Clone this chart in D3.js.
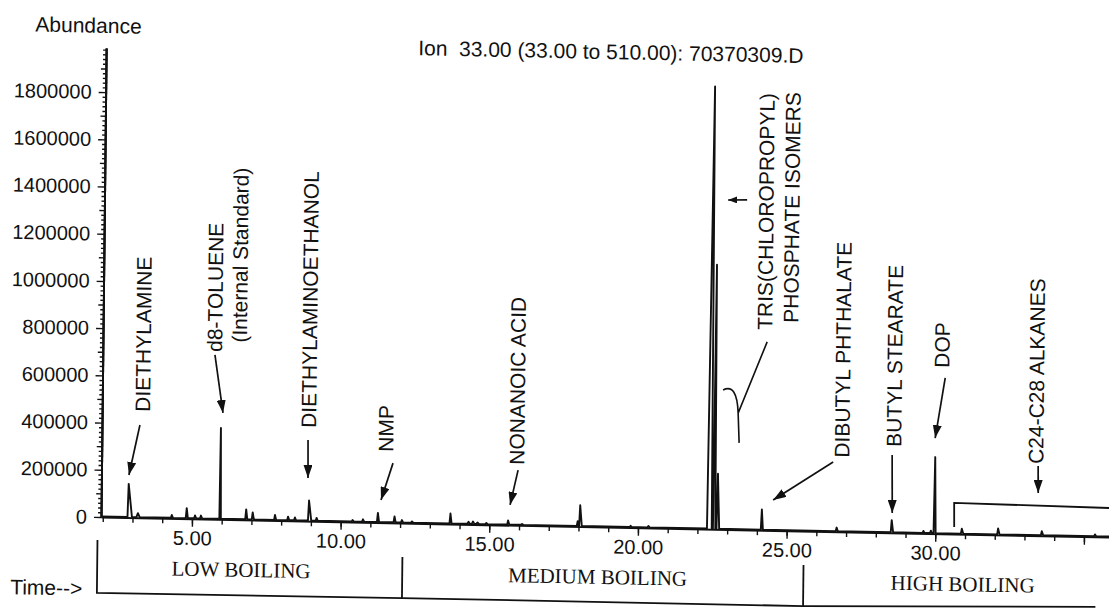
<!DOCTYPE html>
<html>
<head>
<meta charset="utf-8">
<script src="https://cdn.jsdelivr.net/npm/d3@7"></script>
<style>
body { margin: 0; background: #fff; }
svg { display: block; }
</style>
</head>
<body>
<div id="chart"></div>
<script>
// peaks: retention time (min) and abundance above baseline
const peakTimes   = [2.86, 3.18, 4.32, 4.82, 5.10, 5.30, 5.94, 6.82, 7.04, 7.79, 8.23, 8.46, 8.93, 9.19, 10.40, 10.75, 11.25, 11.81, 12.06, 12.40, 13.69, 14.30, 14.45, 14.60, 14.90, 15.63, 16.10, 17.97, 18.05, 19.75, 20.35, 22.43, 22.56, 22.67, 24.16, 26.68, 28.53, 29.60, 29.85, 29.97, 30.89, 32.11, 33.58, 35.37]
const peakHeights = [140000, 17000, 12000, 42000, 12000, 12000, 385000, 42000, 30000, 21000, 15000, 12000, 85000, 12000, 6000, 10000, 38000, 25000, 10000, 5000, 42000, 8000, 10000, 6000, 5000, 17000, 4000, 20000, 88000, 5000, 6000, 1873000, 1118000, 233000, 85000, 15000, 51000, 8000, 10000, 322000, 21000, 25000, 17000, 8000]
// rise / fall widths of each peak (min)
const peakRise = [0.03, 0.05, 0.03, 0.03, 0.03, 0.03, 0.02, 0.03, 0.03, 0.03, 0.03, 0.03, 0.03, 0.03, 0.03, 0.03, 0.03, 0.03, 0.03, 0.03, 0.03, 0.04, 0.04, 0.04, 0.03, 0.03, 0.03, 0.03, 0.03, 0.03, 0.03, 0.11, 0.04, 0.03, 0.03, 0.03, 0.03, 0.03, 0.03, 0.03, 0.03, 0.03, 0.03, 0.03]
const peakFall = [0.12, 0.06, 0.04, 0.04, 0.04, 0.04, 0.03, 0.04, 0.04, 0.04, 0.04, 0.04, 0.08, 0.04, 0.04, 0.04, 0.04, 0.04, 0.04, 0.04, 0.04, 0.05, 0.05, 0.05, 0.04, 0.04, 0.04, 0.03, 0.06, 0.04, 0.04, 0.05, 0.04, 0.06, 0.04, 0.04, 0.05, 0.04, 0.03, 0.04, 0.05, 0.05, 0.05, 0.04]
const baselineLevel = 2500

const yTickLabels = [0, 200000, 400000, 600000, 800000, 1000000, 1200000, 1400000, 1600000, 1800000]
const xTickLabels = [5, 10, 15, 20, 25, 30]

// compound labels (rotated), anchored at the start of the text
const labelTexts  = ['DIETHYLAMINE', 'd8-TOLUENE', '(Internal Standard)', 'DIETHYLAMINOETHANOL', 'NMP', 'NONANOIC ACID', 'TRIS(CHLOROPROPYL)', 'PHOSPHATE ISOMERS', 'DIBUTYL PHTHALATE', 'BUTYL STEARATE', 'DOP', 'C24-C28 ALKANES']
const labelTimes  = [3.55, 5.95, 6.78, 9.14, 11.74, 16.15, 24.44, 25.31, 27.08, 28.82, 30.41, 33.60]
const labelLevels = [449000, 709000, 750000, 395000, 300000, 256000, 849000, 881000, 314000, 364000, 703000, 304000]

// arrows [time, abundance] from -> to
const arrowFrom = [[3.215, 393000], [5.712, 696000], [8.873, 344000], [11.739, 253000], [15.947, 234000], [26.539, 295000], [28.52, 330000], [30.276, 661000], [33.434, 295000]]
const arrowTo   = [[2.864, 180000], [6.004, 451000], [8.886, 183000], [11.349, 96000], [15.691, 86000], [24.534, 129000], [28.544, 84000], [29.960, 405000], [33.445, 181000]]

// boiling ranges
const sectionBounds = [1.83, 12.09, 25.58, 35.41]
const sectionNames = ['LOW BOILING', 'MEDIUM BOILING', 'HIGH BOILING']
const sectionCenters = [6.67, 18.66, 30.94]

const width = 1109
const height = 609
const ink = '#111'
const sans = '"Liberation Sans", Arial, sans-serif'

const x = d3.scaleLinear().domain([1.94, 36]).range([101, 1113.7])
const y = d3.scaleLinear().domain([0, 1987000]).range([517, 48])

const svg = d3.select('#chart').append('svg')
	.attr('width', width)
	.attr('height', height)
	.style('background', '#fff')

const defs = svg.append('defs')
function marker (id, len, half) {
	defs.append('marker')
		.attr('id', id)
		.attr('viewBox', (-len) + ' ' + (-half) + ' ' + (len + 1) + ' ' + (half * 2))
		.attr('refX', 0).attr('refY', 0)
		.attr('markerWidth', len + 1).attr('markerHeight', half * 2)
		.attr('markerUnits', 'userSpaceOnUse')
		.attr('orient', 'auto')
		.append('path')
		.attr('d', 'M0,0 L' + (-len) + ',' + (-half) + ' L' + (-len) + ',' + half + ' Z')
		.attr('fill', ink)
}
marker('head', 13, 4.5)
marker('headS', 9, 3.5)

// the scanned page is slightly skewed, so everything sits in one skewed group
const g = svg.append('g')
	.attr('transform', 'translate(101,517) matrix(1,0.02,-0.011,1,0,0) translate(-101,-517)')

// y axis: minor, mid and labelled ticks
const minorY = d3.range(0, 1987000, 20000).filter(v => v % 100000 !== 0)
const midY = d3.range(100000, 1987000, 200000)
g.append('g').attr('transform', 'translate(101,0)')
	.call(d3.axisLeft(y).tickValues(minorY).tickSize(3).tickSizeOuter(0).tickFormat(''))
g.append('g').attr('transform', 'translate(101,0)')
	.call(d3.axisLeft(y).tickValues(midY).tickSize(5).tickSizeOuter(0).tickFormat(''))
const yAxis = g.append('g').attr('transform', 'translate(101,0)')
	.call(d3.axisLeft(y).tickValues(yTickLabels).tickSize(7).tickPadding(7).tickSizeOuter(0).tickFormat(d3.format('d')))

// x axis: one tick per minute, longer ones every 5 minutes
const xMinor = g.append('g').attr('transform', 'translate(0,517)')
	.call(d3.axisBottom(x).tickValues(d3.range(2, 37)).tickSize(5).tickSizeOuter(0).tickFormat(''))
const xAxis = g.append('g').attr('transform', 'translate(0,517)')
	.call(d3.axisBottom(x).tickValues([5, 10, 15, 20, 25, 30, 35]).tickSize(8).tickPadding(4).tickSizeOuter(0)
		.tickFormat(d => xTickLabels.includes(d) ? d3.format('.2f')(d) : ''))
xMinor.select('.domain').remove()

g.selectAll('.domain').attr('stroke', ink).attr('stroke-width', 1.9)
g.selectAll('.tick line').attr('stroke', ink).attr('stroke-width', 1.4)
g.selectAll('.tick text').attr('fill', ink).style('font-family', sans).style('font-size', '20px')

// chromatogram trace
const order = d3.range(peakTimes.length).sort((a, b) => peakTimes[a] - peakTimes[b])
const trace = [[x.domain()[0], baselineLevel]]
order.forEach(i => {
	trace.push([peakTimes[i] - peakRise[i], baselineLevel])
	trace.push([peakTimes[i], baselineLevel + peakHeights[i]])
	trace.push([peakTimes[i] + peakFall[i], baselineLevel])
})
trace.push([x.domain()[1], baselineLevel])

g.append('path')
	.datum(trace)
	.attr('fill', 'none')
	.attr('stroke', ink)
	.attr('stroke-width', 1.9)
	.attr('stroke-linejoin', 'round')
	.attr('d', d3.line().x(d => x(d[0])).y(d => y(d[1])))

// rotated compound names
g.selectAll('.label')
	.data(labelTexts)
	.enter()
	.append('text')
	.attr('class', 'label')
	.attr('transform', (d, i) => 'translate(' + x(labelTimes[i]) + ',' + y(labelLevels[i]) + ') rotate(-90)')
	.style('font-family', sans)
	.style('font-size', '21px')
	.attr('fill', ink)
	.text(d => d)

// arrows pointing at the peaks
g.selectAll('.arrow')
	.data(arrowFrom)
	.enter()
	.append('line')
	.attr('class', 'arrow')
	.attr('x1', d => x(d[0])).attr('y1', d => y(d[1]))
	.attr('x2', (d, i) => x(arrowTo[i][0])).attr('y2', (d, i) => y(arrowTo[i][1]))
	.attr('stroke', ink)
	.attr('stroke-width', 1.7)
	.attr('marker-end', 'url(#head)')

// tris(chloropropyl) phosphate: small arrow and hooked leader
g.append('line')
	.attr('x1', x(23.549)).attr('y1', y(1398000))
	.attr('x2', x(22.910)).attr('y2', y(1396000))
	.attr('stroke', ink).attr('stroke-width', 1.6)
	.attr('marker-end', 'url(#headS)')
g.append('path')
	.attr('d', 'M' + x(22.812) + ',' + y(591000) +
		' Q' + x(23.280) + ',' + y(622000) + ' ' + x(23.326) + ',' + y(494000) +
		' L' + x(23.370) + ',' + y(368000) +
		' M' + x(23.326) + ',' + y(494000) + ' L' + x(24.275) + ',' + y(798000))
	.attr('fill', 'none').attr('stroke', ink).attr('stroke-width', 1.6)

// bracket over the C24-C28 alkanes
g.append('path')
	.attr('d', 'M' + x(30.633) + ',' + y(30000) + ' L' + x(30.623) + ',' + y(132000) + ' L' + x(36.2) + ',' + y(123000))
	.attr('fill', 'none').attr('stroke', ink).attr('stroke-width', 1.8)

// titles
g.append('text').attr('x', 30).attr('y', 33)
	.style('font-family', sans).style('font-size', '21px').attr('fill', ink)
	.text('Abundance')
g.append('text').attr('x', 413).attr('y', 49)
	.style('font-family', sans).style('font-size', '21px').attr('fill', ink)
	.attr('xml:space', 'preserve')
	.text('Ion  33.00 (33.00 to 510.00): 70370309.D')
g.append('text').attr('x', 11).attr('y', 596)
	.style('font-family', sans).style('font-size', '21px').attr('fill', ink)
	.text('Time-->')

// boiling range strip under the time axis
const strip = g.append('g').attr('stroke', ink).attr('stroke-width', 1.8).attr('fill', 'none')
strip.append('path')
	.attr('d', 'M' + x(sectionBounds[0]) + ',540 L' + x(sectionBounds[0]) + ',593' +
		' L' + x(sectionBounds[1]) + ',592 L' + x(sectionBounds[2]) + ',592 L' + x(sectionBounds[3]) + ',587')
strip.selectAll('.divider')
	.data(sectionBounds.slice(1, 3))
	.enter()
	.append('line')
	.attr('x1', d => x(d)).attr('x2', d => x(d))
	.attr('y1', 551).attr('y2', 592)
g.selectAll('.section')
	.data(sectionNames)
	.enter()
	.append('text')
	.attr('x', (d, i) => x(sectionCenters[i]))
	.attr('y', 574)
	.attr('text-anchor', 'middle')
	.style('font-family', '"Liberation Serif", "Times New Roman", serif')
	.style('font-size', '21px')
	.attr('fill', ink)
	.text(d => d)
</script>
</body>
</html>
